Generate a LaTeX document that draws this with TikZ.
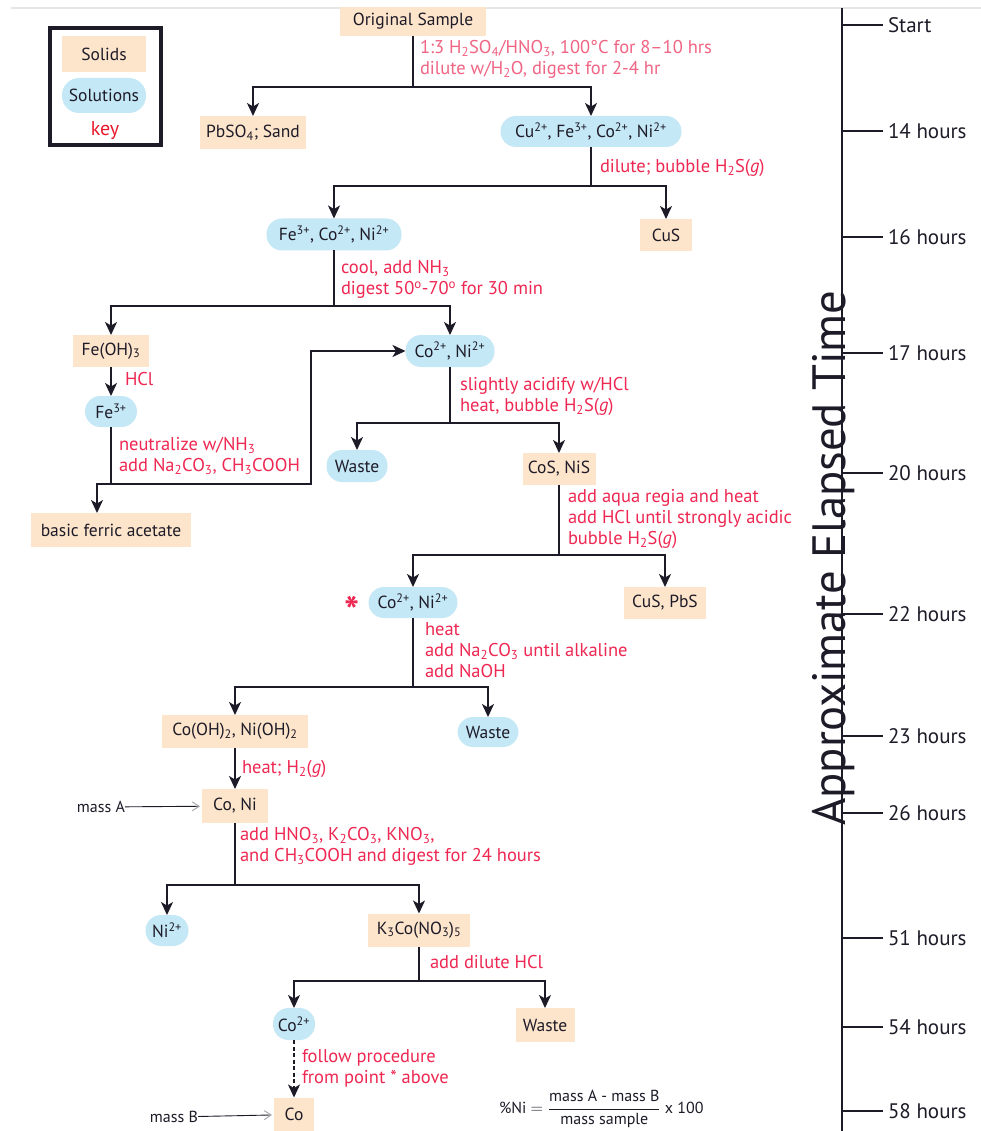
\documentclass[tikz,border=0pt]{standalone}
\usepackage{fontspec}
\usepackage{graphicx}
\setmainfont{PT Sans}
\usetikzlibrary{arrows.meta}
\definecolor{peach}{RGB}{253,229,203}
\definecolor{aqua}{RGB}{197,232,246}
\definecolor{lblred}{RGB}{238,40,82}
\definecolor{lblpink}{RGB}{240,100,132}
\definecolor{keyred}{RGB}{232,28,45}
\definecolor{ink}{RGB}{30,27,40}
\newcommand\dn[1]{\textsubscript{#1}}
\newcommand\up[1]{\textsuperscript{#1}}
\newcommand\nfont{\fontsize{17.5}{21}\selectfont}
\newcommand\lfont{\fontsize{18.5}{21}\selectfont}
\begin{document}
\begin{tikzpicture}[x=1pt,y=-1pt,
  every node/.style={inner sep=0pt, outer sep=0pt},
  solidbox/.style={fill=peach, text=ink, font=\nfont, minimum height=33pt},
  solnbox/.style={fill=aqua, text=ink, font=\nfont, rounded corners=15.5pt, minimum height=31pt},
  lbl/.style={text=lblred, font=\lfont, anchor=north west, align=left},
  conn/.style={line width=1.5pt, draw=ink},
  arr/.style={conn, -{Stealth[length=13pt,width=12pt,inset=3.5pt]}},
  massarr/.style={line width=0.9pt, draw=ink, shorten >=2pt, -{Straight Barb[length=7pt,width=9pt,color=gray!70]}},
  tickline/.style={line width=1.2pt, draw=ink},
  tlabel/.style={font=\fontsize{21}{24}\selectfont, text=ink, anchor=west},
]
\useasboundingbox (0,0) rectangle (981,1131);
\fill[white] (0,0) rectangle (981,1131);
\draw[gray!20, line width=1.2pt] (11,8) -- (981,8);

% key
\draw[line width=4.5pt, ink] (50,28) rectangle (161,145);
\node[solidbox, minimum width=84pt, minimum height=36pt] (ksol) at (104,54) {Solids};
\node[solnbox, minimum width=84pt, minimum height=35pt, rounded corners=17pt] (ksoln) at (104,95.5) {Solutions};
\node[text=keyred, font=\fontsize{20}{22}\selectfont] (key) at (105,131) {key};

% nodes
\node[solidbox, minimum width=146pt, minimum height=29pt] (orig) at (413,21.5) {Original Sample};
\node[solidbox, minimum width=106pt] (pbso) at (253,132.5) {PbSO\dn{4}; Sand};
\node[solnbox, minimum width=181pt] (cu) at (591,131.5) {Cu\up{2+}, Fe\up{3+}, Co\up{2+}, Ni\up{2+}};
\node[solnbox, minimum width=135pt, minimum height=32pt] (fe) at (334,234.5) {Fe\up{3+}, Co\up{2+}, Ni\up{2+}};
\node[solidbox, minimum width=52pt, minimum height=32pt] (cus) at (666,235) {CuS};
\node[solidbox, minimum width=76pt, minimum height=32pt] (feoh) at (111,351) {Fe(OH)\dn{3}};
\node[solnbox, minimum width=89pt, minimum height=32pt] (coni1) at (450,351) {Co\up{2+}, Ni\up{2+}};
\node[solnbox, minimum width=52pt] (fe3) at (111,411.5) {Fe\up{3+}};
\node[solidbox, minimum width=160pt, minimum height=34pt] (bfa) at (111,530) {basic ferric acetate};
\node[solnbox, minimum width=61pt, minimum height=32pt] (waste1) at (357,466) {Waste};
\node[solidbox, minimum width=73pt, minimum height=32pt] (cosnis) at (559,469) {CoS, NiS};
\node[solnbox, minimum width=89pt] (coni2) at (413,602.5) {Co\up{2+}, Ni\up{2+}};
\node[solidbox, minimum width=82pt, minimum height=32pt] (cupbs) at (665,603) {CuS, PbS};
\node[solidbox, minimum width=146pt] (cooh) at (235,731.5) {Co(OH)\dn{2}, Ni(OH)\dn{2}};
\node[solnbox, minimum width=61pt, minimum height=30pt] (waste2) at (488,732) {Waste};
\node[solidbox, minimum width=66pt, minimum height=34pt] (coni3) at (235,806) {Co, Ni};
\node[solnbox, minimum width=43pt] (ni) at (167,930.5) {Ni\up{2+}};
\node[solidbox, minimum width=102pt] (k3co) at (419,930) {K\dn{3}Co(NO\dn{3})\dn{5}};
\node[solnbox, minimum width=42pt, minimum height=32pt] (co2) at (294,1024) {Co\up{2+}};
\node[solidbox, minimum width=59pt, minimum height=34pt] (waste3) at (545,1025) {Waste};
\node[solidbox, minimum width=40pt, minimum height=34pt] (co) at (294,1114.5) {Co};

\node[text=lblred, font=\fontsize{40}{40}\selectfont\bfseries, anchor=north] (ast) at (352,596) {*};

\node[text=ink, font=\fontsize{16}{18}\selectfont] (massA) at (101,807) {mass A};
\node[text=ink, font=\fontsize{16}{18}\selectfont] (massB) at (174,1117) {mass B};
\node[text=ink, font=\fontsize{16}{18}\selectfont, anchor=west] (formula) at (499,1109)
  {\%Ni $=\displaystyle\frac{\mbox{mass A - mass B}}{\mbox{mass sample}}$ x 100};

% junctions
\coordinate (j1) at (413,87);
\coordinate (j2) at (591,186);
\coordinate (j3) at (334,306);
\coordinate (j4) at (111,484);
\coordinate (c1) at (311,484);
\coordinate (j5) at (450,423);
\coordinate (j6) at (559,555);
\coordinate (j7) at (413,687);
\coordinate (j8) at (235,885);
\coordinate (j9) at (419,981);

% connectors
\draw[conn] (orig) -- (j1);
\draw[arr] (j1) -| (pbso.north);
\draw[arr] (j1) -| (cu.north);
\draw[conn] (cu) -- (j2);
\draw[arr] (j2) -| (fe.north);
\draw[arr] (j2) -| (cus.north);
\draw[conn] (fe) -- (j3);
\draw[arr] (j3) -| (feoh.north);
\draw[arr] (j3) -| (coni1.north);
\draw[arr] (feoh) -- (fe3);
\draw[conn] (fe3) -- (j4);
\draw[arr] (j4) -| ([xshift=-14pt]bfa.north);
\draw[arr] (j4) -- (c1) |- (coni1);
\draw[conn] (coni1) -- (j5);
\draw[arr] (j5) -| (waste1.north);
\draw[arr] (j5) -| (cosnis.north);
\draw[conn] (cosnis) -- (j6);
\draw[arr] (j6) -| (coni2.north);
\draw[arr] (j6) -| (cupbs.north);
\draw[conn] (coni2) -- (j7);
\draw[arr] (j7) -| (cooh.north);
\draw[arr] (j7) -| (waste2.north);
\draw[arr] (cooh) -- (coni3);
\draw[conn] (coni3) -- (j8);
\draw[arr] (j8) -| (ni.north);
\draw[arr] (j8) -| (k3co.north);
\draw[conn] (k3co) -- (j9);
\draw[arr] (j9) -| (co2.north);
\draw[arr] (j9) -| (waste3.north);
\draw[arr, dash pattern=on 4pt off 2.5pt] (co2) -- (co);
\draw[massarr] (massA) -- (coni3);
\draw[massarr] (massB) -- (co);

% labels
\node[lbl, text=lblpink] (l1) at (420,39) {\strut 1:3 H\dn{2}SO\dn{4}/HNO\dn{3}, 100°C for 8–10 hrs\\dilute w/H\dn{2}O, digest for 2-4 hr};
\node[lbl] (l2) at (600,158) {\strut dilute; bubble H\dn{2}S(\textit{g})};
\node[lbl] (l3) at (341,259) {\strut cool, add NH\dn{3}\\digest 50\up{o}-70\up{o} for 30 min};
\node[lbl] (l4) at (125,371) {\strut HCl};
\node[lbl] (l5) at (119,436) {\strut neutralize w/NH\dn{3}\\add Na\dn{2}CO\dn{3}, CH\dn{3}COOH};
\node[lbl] (l6) at (460,376) {\strut slightly acidify w/HCl\\heat, bubble H\dn{2}S(\textit{g})};
\node[lbl] (l7) at (568,488) {\strut add aqua regia and heat\\add HCl until strongly acidic\\bubble H\dn{2}S(\textit{g})};
\node[lbl] (l8) at (425,621) {\strut heat\\add Na\dn{2}CO\dn{3} until alkaline\\add NaOH};
\node[lbl] (l9) at (242,759) {\strut heat; H\dn{2}(\textit{g})};
\node[lbl] (l10) at (240,826) {\strut add HNO\dn{3}, K\dn{2}CO\dn{3}, KNO\dn{3},\\and CH\dn{3}COOH and digest for 24 hours};
\node[lbl] (l11) at (430,954) {\strut add dilute HCl};
\node[lbl] (l12) at (302,1048) {\strut follow procedure\\from point * above};

% time axis
\coordinate (atop) at (842,8);
\coordinate (abot) at (842,1131);
\draw[line width=1.3pt, ink] (atop) -- (abot);
\foreach \yy/\lab [count=\i] in {25/Start,131/14 hours,237/16 hours,353/17 hours,473/20 hours,614/22 hours,736/23 hours,813/26 hours,938/51 hours,1027/54 hours,1111/58 hours}{
  \coordinate (tk\i) at (842,\yy);
  \node[tlabel] (tl\i) at (888,\yy) {\lab};
  \draw[tickline] (tk\i) -- ++(41,0);
}
\node[rotate=90, anchor=base, text=ink] (title) at (845,558)
  {\resizebox{535pt}{!}{Approximate Elapsed Time}};
\end{tikzpicture}
\end{document}
